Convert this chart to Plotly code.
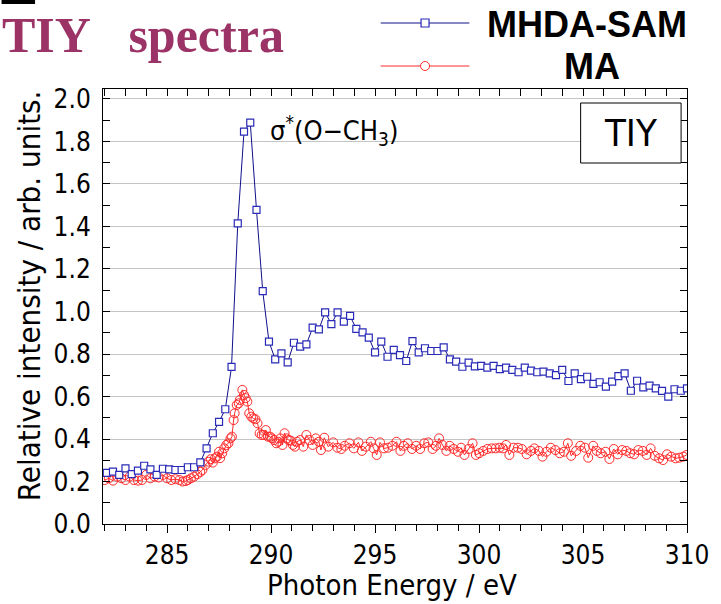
import numpy as np
import plotly.graph_objects as go

W, H = 721, 604
ML, MR, MT, MB = 103, 25, 89, 80

X_RANGE = [281.92, 310.0]
Y_RANGE = [0.0, 2.047]

# ---------------- data ----------------
mhda_energy = np.round(np.arange(282.1, 310.05, 0.3), 2)
mhda_intensity = [
    0.241, 0.246, 0.231, 0.262, 0.235, 0.251, 0.274, 0.257, 0.231, 0.260,
    0.257, 0.254, 0.254, 0.267, 0.267, 0.290, 0.356, 0.427, 0.481, 0.540,
    0.739, 1.415, 1.846, 1.889, 1.478, 1.096, 0.858, 0.775, 0.803, 0.761,
    0.853, 0.835, 0.845, 0.924, 0.916, 0.996, 0.941, 0.996, 0.952, 0.979,
    0.918, 0.902, 0.877, 0.808, 0.858, 0.787, 0.819, 0.795, 0.767, 0.861,
    0.808, 0.827, 0.814, 0.814, 0.831, 0.775, 0.764, 0.740, 0.759, 0.742,
    0.744, 0.736, 0.744, 0.729, 0.736, 0.725, 0.714, 0.736, 0.722, 0.714,
    0.717, 0.709, 0.701, 0.725, 0.673, 0.709, 0.682, 0.693, 0.659, 0.667,
    0.646, 0.670, 0.696, 0.709, 0.627, 0.674, 0.643, 0.651, 0.638, 0.626,
    0.599, 0.634, 0.627, 0.638,
]

ma_energy = [
    282.0, 282.2, 282.4, 282.6, 282.8, 283.0, 283.2, 283.4, 283.6, 283.8,
    284.0, 284.2, 284.4, 284.6, 284.8, 285.0, 285.2, 285.4, 285.6, 285.75,
    285.9, 286.0, 286.15, 286.3, 286.45, 286.6, 286.7, 286.85, 287.0, 287.1,
    287.2, 287.3, 287.4, 287.5, 287.55, 287.65, 287.75, 287.85, 287.95, 288.05,
    288.12, 288.2, 288.25, 288.35, 288.45, 288.5, 288.62, 288.7, 288.78, 288.86,
    288.95, 289.05, 289.15, 289.25, 289.35, 289.45, 289.55, 289.65, 289.75, 289.85,
    289.95, 290.05, 290.15, 290.25, 290.35, 290.45, 290.55, 290.65, 290.75, 290.85,
    290.95, 291.05, 291.15, 291.25, 291.4, 291.55, 291.7, 291.85, 292.0, 292.15,
    292.3, 292.4, 292.56, 292.75, 292.99, 293.19, 293.38, 293.54, 293.77, 293.98,
    294.2, 294.37, 294.56, 294.8, 294.93, 295.08, 295.24, 295.43, 295.62, 295.83,
    296.03, 296.22, 296.38, 296.57, 296.78, 296.98, 297.17, 297.37, 297.56, 297.77,
    297.93, 298.08, 298.24, 298.43, 298.59, 298.78, 298.98, 299.14, 299.3, 299.5,
    299.69, 299.85, 300.01, 300.2, 300.4, 300.61, 300.8, 300.99, 301.15, 301.3,
    301.46, 301.66, 301.87, 302.06, 302.29, 302.5, 302.66, 302.88, 303.05, 303.24,
    303.45, 303.67, 303.88, 304.08, 304.27, 304.43, 304.67, 304.87, 305.09, 305.25,
    305.49, 305.66, 305.85, 306.08, 306.27, 306.48, 306.67, 306.88, 307.08, 307.27,
    307.46, 307.66, 307.87, 308.06, 308.25, 308.45, 308.66, 308.85, 309.04, 309.24,
    309.45, 309.63, 309.82, 309.98,
]
ma_intensity = [
    0.207, 0.215, 0.204, 0.223, 0.215, 0.207, 0.223, 0.207, 0.204, 0.207,
    0.231, 0.215, 0.223, 0.219, 0.231, 0.215, 0.207, 0.211, 0.207, 0.200,
    0.202, 0.207, 0.215, 0.223, 0.234, 0.245, 0.254, 0.278, 0.293, 0.305,
    0.289, 0.309, 0.317, 0.340, 0.310, 0.333, 0.356, 0.372, 0.380, 0.403,
    0.411, 0.489, 0.521, 0.560, 0.568, 0.584, 0.631, 0.607, 0.592, 0.576,
    0.521, 0.505, 0.497, 0.493, 0.474, 0.427, 0.419, 0.419, 0.442, 0.411,
    0.411, 0.403, 0.395, 0.380, 0.387, 0.403, 0.372, 0.427, 0.403, 0.395,
    0.392, 0.372, 0.364, 0.387, 0.395, 0.364, 0.419, 0.395, 0.372, 0.403,
    0.387, 0.348, 0.406, 0.364, 0.384, 0.359, 0.353, 0.368, 0.380, 0.356,
    0.384, 0.344, 0.364, 0.387, 0.356, 0.325, 0.384, 0.356, 0.359, 0.368,
    0.387, 0.344, 0.368, 0.380, 0.353, 0.368, 0.353, 0.380, 0.384, 0.353,
    0.368, 0.403, 0.372, 0.344, 0.368, 0.353, 0.340, 0.359, 0.325, 0.353,
    0.380, 0.325, 0.333, 0.344, 0.353, 0.356, 0.356, 0.359, 0.356, 0.372,
    0.325, 0.359, 0.359, 0.353, 0.328, 0.344, 0.356, 0.344, 0.317, 0.340,
    0.359, 0.348, 0.333, 0.340, 0.380, 0.321, 0.344, 0.368, 0.359, 0.312,
    0.368, 0.344, 0.333, 0.340, 0.306, 0.353, 0.328, 0.348, 0.344, 0.333,
    0.328, 0.348, 0.344, 0.325, 0.356, 0.321, 0.309, 0.301, 0.328, 0.317,
    0.309, 0.312, 0.317, 0.325,
]

series_names = ["MHDA-SAM", "MA"]
x_title = "Photon Energy / eV"
y_title = "Relative intensity / arb. units."
chart_title = "TIY&nbsp;&nbsp;&nbsp;spectra"
peak_label = "σ<sup>*</sup>(O−CH<sub>3</sub>)"
box_label = "TIY"

# ---------------- styles ----------------
NARROW = "Liberation Sans Narrow, Arial Narrow, DejaVu Sans Condensed, sans-serif"
BOLD_SANS = "Liberation Sans, Arial, sans-serif"
BLUE_LINE = "#10108a"
BLUE_MK = "#2a2ab8"
RED = "#ff2a2a"
GRID = "#c4c4c4"

PW, PH = W - ML - MR, H - MT - MB


def px(xp):
    return (xp - ML) / PW


def py(yp):
    return (H - MB - yp) / PH


fig = go.Figure()
fig.add_trace(go.Scatter(
    x=ma_energy, y=ma_intensity, mode="lines+markers", name=series_names[1],
    line=dict(color=RED, width=1),
    marker=dict(symbol="circle-open", size=9, color=RED, line=dict(width=1)),
    showlegend=False,
))
fig.add_trace(go.Scatter(
    x=mhda_energy, y=mhda_intensity, mode="lines+markers", name=series_names[0],
    line=dict(color=BLUE_LINE, width=1),
    marker=dict(symbol="square", size=7, color="white",
                line=dict(color=BLUE_MK, width=1.2)),
    showlegend=False,
))

fig.update_layout(
    width=W, height=H,
    margin=dict(l=ML, r=MR, t=MT, b=MB, pad=0),
    paper_bgcolor="white", plot_bgcolor="white",
    font=dict(family=NARROW, color="black"),
    xaxis=dict(
        range=X_RANGE, tick0=285, dtick=5, ticks="outside", ticklen=8,
        tickcolor="black", tickwidth=1,
        minor=dict(dtick=1, tick0=285, ticks="outside", ticklen=6,
                   tickcolor="black", showgrid=False),
        showline=True, linecolor="black", linewidth=1, mirror=True,
        showgrid=False, zeroline=False,
        tickfont=dict(size=26, family=NARROW),
    ),
    xaxis2=dict(
        overlaying="x", side="top", anchor="y", range=X_RANGE,
        tick0=285, dtick=1, ticks="inside", ticklen=7, tickcolor="black",
        showticklabels=False, showline=False, showgrid=False, zeroline=False,
    ),
    yaxis=dict(
        range=Y_RANGE, tick0=0, dtick=0.2, tickformat=".1f",
        ticks="inside", ticklen=7, tickcolor="black",
        minor=dict(dtick=0.1, ticks="inside", ticklen=7, tickcolor="black",
                   showgrid=False),
        showline=True, linecolor="black", linewidth=1, mirror="allticks",
        showgrid=True, gridcolor=GRID, gridwidth=1.3, zeroline=False,
        tickfont=dict(size=26, family=NARROW), ticklabelstandoff=6,
    ),
)

# invisible trace to bind top axis
fig.add_trace(go.Scatter(x=[X_RANGE[0]], y=[None], xaxis="x2", yaxis="y",
                         mode="markers", showlegend=False, hoverinfo="skip"))

ann = []
# axis titles
ann.append(dict(text=x_title, x=px(396), y=py(585), xref="paper", yref="paper",
                showarrow=False, font=dict(size=29, family=NARROW),
                xanchor="center", yanchor="middle"))
ann.append(dict(text=y_title, x=px(28), y=py(296), xref="paper", yref="paper",
                showarrow=False, textangle=-90, font=dict(size=31, family=NARROW),
                xanchor="center", yanchor="middle"))
# chart title
ann.append(dict(text=chart_title, x=px(-2), y=py(35), xref="paper", yref="paper",
                showarrow=False, xanchor="left", yanchor="middle",
                font=dict(size=50, family="Liberation Serif, Times New Roman, serif",
                          color="#9b3366", weight="bold")))
# peak label
ann.append(dict(text=peak_label, x=px(271), y=py(130), xref="paper", yref="paper",
                showarrow=False, xanchor="left", yanchor="middle",
                font=dict(size=27, family=NARROW)))
# TIY box
ann.append(dict(text=box_label, x=px(639), y=py(133), xref="paper", yref="paper",
                showarrow=False, xanchor="center", yanchor="middle",
                font=dict(size=38, family=NARROW)))
# legend texts
ann.append(dict(text=series_names[0], x=px(594), y=py(24), xref="paper", yref="paper",
                showarrow=False, xanchor="center", yanchor="middle",
                font=dict(size=36, family=BOLD_SANS, weight="bold")))
ann.append(dict(text=series_names[1], x=px(600), y=py(67), xref="paper", yref="paper",
                showarrow=False, xanchor="center", yanchor="middle",
                font=dict(size=36, family=BOLD_SANS, weight="bold")))
fig.update_layout(annotations=ann)

shapes = []
# black bar top-left
shapes.append(dict(type="rect", xref="paper", yref="paper", x0=px(0), x1=px(34),
                   y0=py(0), y1=py(4), fillcolor="black", line=dict(width=0)))
# TIY box
shapes.append(dict(type="rect", xref="paper", yref="paper", x0=px(588), x1=px(690),
                   y0=py(103), y1=py(163), fillcolor="white",
                   line=dict(color="black", width=1), layer="above"))
# legend lines
for yl, col in ((23, BLUE_LINE), (66, RED)):
    shapes.append(dict(type="line", xref="paper", yref="paper", x0=px(385), x1=px(475),
                       y0=py(yl), y1=py(yl), line=dict(color=col, width=1)))
# legend symbols (pixel sized)
shapes.append(dict(type="rect", xref="paper", yref="paper", xsizemode="pixel",
                   ysizemode="pixel", xanchor=px(430), yanchor=py(23),
                   x0=-4, x1=4, y0=-4, y1=4, fillcolor="white",
                   line=dict(color=BLUE_MK, width=1.2)))
shapes.append(dict(type="circle", xref="paper", yref="paper", xsizemode="pixel",
                   ysizemode="pixel", xanchor=px(430), yanchor=py(66),
                   x0=-4.5, x1=4.5, y0=-4.5, y1=4.5, fillcolor="white",
                   line=dict(color=RED, width=1)))
fig.update_layout(shapes=shapes)

fig.write_html("out.html")
